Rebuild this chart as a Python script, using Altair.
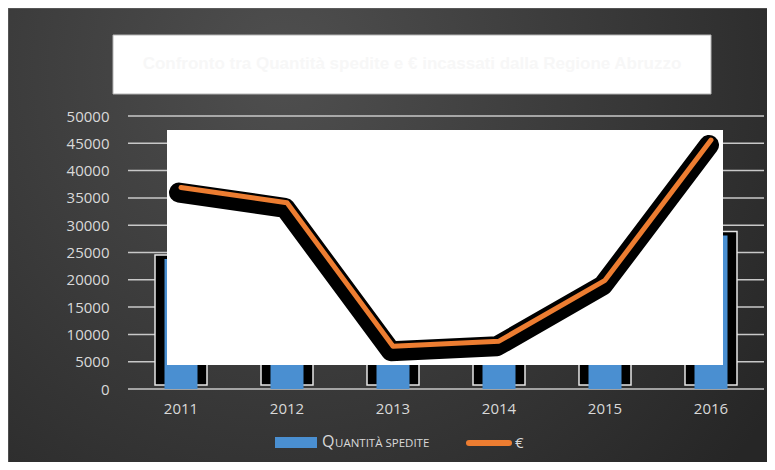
import altair as alt
import pandas as pd

# ---- data ----
anni = ["2011", "2012", "2013", "2014", "2015", "2016"]
quantita_spedite = [23800, 19000, 5600, 6800, 12500, 28100]
euro = [36900, 34100, 7850, 8760, 19900, 45600]
y_ticks = [0, 5000, 10000, 15000, 20000, 25000, 30000, 35000, 40000, 45000, 50000]
titolo = "Confronto tra Quantità spedite e € incassati dalla Regione Abruzzo"
legenda_barre = ["Q", "UANTITÀ SPEDITE"]
legenda_linea = "€"

df = pd.DataFrame({"anno": anni, "quantita": quantita_spedite, "euro": euro})
df_ticks = pd.DataFrame({"v": y_ticks})
one = pd.DataFrame({"k": [0]})

W, H = 636, 273
FONT = "Open Sans"
LABEL = "#d9d9d9"

yscale = alt.Scale(domain=[0, 50000], nice=False, zero=True)
xscale = alt.Scale(paddingInner=0, paddingOuter=0)

yaxis = alt.Axis(values=y_ticks, tickCount=11, format="d", labelOverlap=False,
                 domain=False, ticks=False, grid=False, labelColor=LABEL, labelFont=FONT,
                 labelFontSize=15, labelPadding=19, zindex=2)

# background with radial gradient
bg = alt.Chart(one).mark_rect(
    fill={
        "gradient": "radial",
        "x1": 0.36, "y1": 0.28, "r1": 0,
        "x2": 0.36, "y2": 0.28, "r2": 0.78,
        "stops": [{"offset": 0, "color": "#4f4f4f"}, {"offset": 1, "color": "#262626"}],
    },
    stroke="#6e6e6e", strokeWidth=1,
).encode(x=alt.value(-120), x2=alt.value(645), y=alt.value(-108), y2=alt.value(350))

# horizontal gridlines (carry the y axis labels)
grid = alt.Chart(df_ticks).mark_rule(color="#c8c8c8", strokeWidth=1.5).encode(
    y=alt.Y("v:Q", scale=yscale, axis=yaxis, title=None),
    x=alt.value(0), x2=alt.value(W),
)

xenc = alt.X("anno:N", scale=xscale, sort=anni, title=None,
             axis=alt.Axis(labelAngle=0, domain=False, ticks=False, grid=False,
                           labelColor=LABEL, labelFont=FONT, labelFontSize=15,
                           labelPadding=12, zindex=2))

bars_outer = alt.Chart(df).mark_bar(
    width=52, color="black", stroke="#e6e6e6", strokeWidth=1.5, yOffset=-4, y2Offset=0,
).encode(
    x=xenc,
    y=alt.Y("quantita:Q", scale=yscale, title=None),
)

bars_inner = alt.Chart(df).mark_bar(width=33, color="#4a8fd1").encode(
    x=alt.X("anno:N", scale=xscale, sort=anni),
    y=alt.Y("quantita:Q", scale=yscale),
)

# white plot-area panel
panel = alt.Chart(one).mark_rect(color="white").encode(
    x=alt.value(39), x2=alt.value(595), y=alt.value(14), y2=alt.value(249)
)

line_shadow = alt.Chart(df).mark_line(
    color="black", strokeWidth=20, strokeCap="round", strokeJoin="round", yOffset=5, xOffset=-2
).encode(x=alt.X("anno:N", scale=xscale, sort=anni), y=alt.Y("euro:Q", scale=yscale))

line = alt.Chart(df).mark_line(
    color="#ed7d31", strokeWidth=5, strokeCap="round", strokeJoin="round"
).encode(x=alt.X("anno:N", scale=xscale, sort=anni), y=alt.Y("euro:Q", scale=yscale))

# title box
title_box = alt.Chart(one).mark_rect(fill="white", stroke="#b5b5b5", strokeWidth=1).encode(
    x=alt.value(-15), x2=alt.value(583), y=alt.value(-81), y2=alt.value(-22)
)
title_text = alt.Chart(one).mark_text(
    text=titolo, font="Liberation Sans", fontWeight="bold", fontSize=17,
    color="#f7f7f7", align="center", baseline="middle"
).encode(x=alt.value(284), y=alt.value(-52))

# legend
leg_swatch = alt.Chart(one).mark_rect(color="#4a8fd1").encode(
    x=alt.value(147), x2=alt.value(189), y=alt.value(321), y2=alt.value(332)
)
leg_q = alt.Chart(one).mark_text(
    text=legenda_barre[0], font=FONT, fontSize=16, color=LABEL, align="left", baseline="alphabetic"
).encode(x=alt.value(194), y=alt.value(331))
leg_rest = alt.Chart(one).mark_text(
    text=legenda_barre[1], font=FONT, fontSize=11.5, color=LABEL, align="left", baseline="alphabetic"
).encode(x=alt.value(207), y=alt.value(331))
leg_line = alt.Chart(one).mark_rule(color="#ed7d31", strokeWidth=6, strokeCap="round").encode(
    x=alt.value(341), x2=alt.value(381), y=alt.value(327)
)
leg_euro = alt.Chart(one).mark_text(
    text=legenda_linea, font=FONT, fontSize=15, color=LABEL, align="left", baseline="alphabetic"
).encode(x=alt.value(387), y=alt.value(332))

chart = alt.layer(
    bg, grid, bars_outer, bars_inner, panel, line_shadow, line,
    title_box, title_text, leg_swatch, leg_q, leg_rest, leg_line, leg_euro,
).properties(
    width=W, height=H,
    autosize=alt.AutoSizeParams(type="none"),
    padding={"left": 120, "top": 108, "right": 3, "bottom": 73},
    background="#262626",
).configure_view(strokeWidth=0).configure_axisY(labelOverlap=False)

chart.save("out.html", embed_options={"renderer": "svg", "actions": False})
